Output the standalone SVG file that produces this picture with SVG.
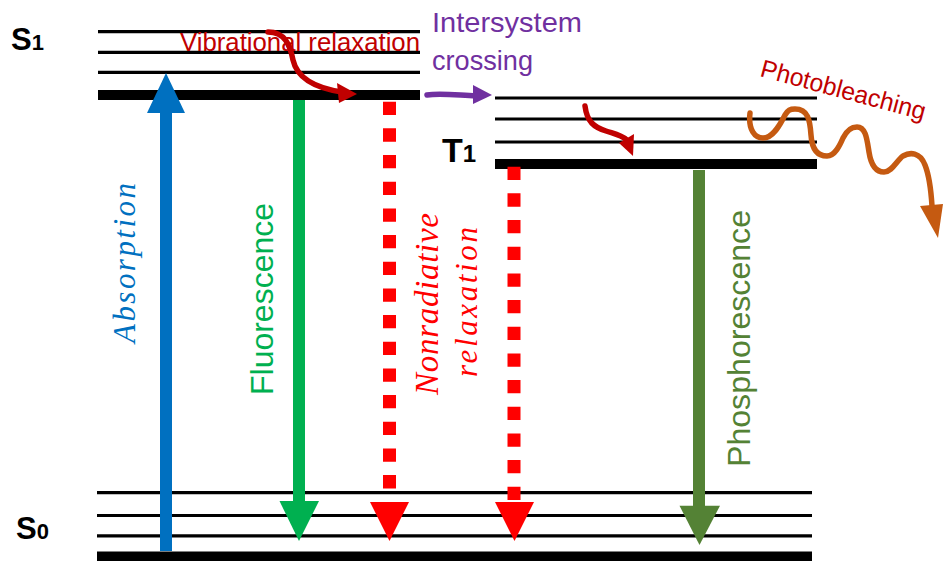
<svg xmlns="http://www.w3.org/2000/svg" width="943" height="561" viewBox="0 0 943 561">
<style>
.thin{stroke:#000;stroke-width:3.2;}
.thick{stroke:#000;stroke-width:10;}
.lvl{font-family:"Liberation Sans",Arial,sans-serif;font-weight:bold;fill:#000;}
.sans{font-family:"Liberation Sans",Arial,sans-serif;}
.ital{font-family:"Liberation Serif","Times New Roman",serif;font-style:italic;}
.wave{fill:none;stroke-width:5.5;stroke-linecap:round;}
</style>
<rect width="943" height="561" fill="#fff"/>

<g id="S1">
  <line class="thin" x1="98" y1="31.7" x2="420" y2="31.7"/>
  <line class="thin" x1="98" y1="52.3" x2="420" y2="52.3"/>
  <line class="thin" x1="98" y1="72.3" x2="420" y2="72.3"/>
  <line class="thick" x1="98" y1="95" x2="420" y2="95"/>
  <text class="lvl" x="11" y="50" font-size="31">S<tspan font-size="22">1</tspan></text>
</g>

<g id="T1">
  <line class="thin" x1="495" y1="98" x2="817" y2="98"/>
  <line class="thin" x1="495" y1="119" x2="817" y2="119"/>
  <line class="thin" x1="495" y1="142" x2="817" y2="142"/>
  <line class="thick" x1="495" y1="164" x2="817" y2="164"/>
  <text class="lvl" x="442" y="162" font-size="34">T<tspan font-size="24">1</tspan></text>
</g>

<g id="S0">
  <line class="thin" x1="97" y1="492.7" x2="812" y2="492.7"/>
  <line class="thin" x1="97" y1="515.5" x2="812" y2="515.5"/>
  <line class="thin" x1="97" y1="535.8" x2="812" y2="535.8"/>
  <line class="thick" x1="97" y1="556.5" x2="812" y2="556.5"/>
  <text class="lvl" x="16" y="539" font-size="31">S<tspan font-size="22">0</tspan></text>
</g>

<g id="connectors">
  <g id="absorption">
    <line x1="166" y1="551" x2="166" y2="110" stroke="#0070C0" stroke-width="12"/>
    <polygon points="147,113 185,113 166,73" fill="#0070C0"/>
    <text class="ital" transform="translate(135,263) rotate(-90)" text-anchor="middle" font-size="31" fill="#0070C0" textLength="160" lengthAdjust="spacing">Absorption</text>
  </g>
  <g id="fluorescence">
    <line x1="299" y1="100" x2="299" y2="503" stroke="#00B050" stroke-width="12"/>
    <polygon points="279.5,501 319,501 299,541" fill="#00B050"/>
    <text class="sans" transform="translate(273,299) rotate(-90)" text-anchor="middle" font-size="32" fill="#00B050" textLength="192" lengthAdjust="spacingAndGlyphs">Fluorescence</text>
  </g>
  <g id="nonrad1">
    <line x1="389.5" y1="101.7" x2="389.5" y2="489" stroke="#FF0000" stroke-width="13" stroke-dasharray="13.3 13.37"/>
    <polygon points="370,502 409,502 389.5,541" fill="#FF0000"/>
    <text class="ital" transform="translate(438,304) rotate(-90)" text-anchor="middle" font-size="33" fill="#FF0000" textLength="182" lengthAdjust="spacing">Nonradiative</text>
    <text class="ital" transform="translate(477,302) rotate(-90)" text-anchor="middle" font-size="31" fill="#FF0000" textLength="150" lengthAdjust="spacing">relaxation</text>
  </g>
  <g id="nonrad2">
    <line x1="514" y1="166.7" x2="514" y2="500" stroke="#FF0000" stroke-width="13" stroke-dasharray="13.3 13.37"/>
    <polygon points="495,502 534,502 514.5,541" fill="#FF0000"/>
  </g>
  <g id="phosphorescence">
    <line x1="699" y1="170" x2="699" y2="507" stroke="#548235" stroke-width="12"/>
    <polygon points="679.5,505.7 720,505.7 699.5,545" fill="#548235"/>
    <text class="sans" transform="translate(750,338.5) rotate(-90)" text-anchor="middle" font-size="32" fill="#548235" textLength="257" lengthAdjust="spacingAndGlyphs">Phosphorescence</text>
  </g>
  <g id="vibrational">
    <text class="sans" x="180" y="51" font-size="26" fill="#C00000" textLength="240" lengthAdjust="spacingAndGlyphs">Vibrational relaxation</text>
    <path class="wave" stroke="#C00000" d="M268,32 C285,32 290,45 293,60 C297,78 315,88 342,92"/>
    <polygon points="337,83 357,94 339,103" fill="#C00000"/>
  </g>
  <g id="vibrational-t1">
    <path class="wave" stroke="#C00000" d="M585,106 C587,122 594,127 606,131 C615,134 621,135 627,140"/>
    <polygon points="619,143 634,134 633,156" fill="#C00000"/>
  </g>
  <g id="isc">
    <text class="sans" x="432" y="32" font-size="28" fill="#7030A0" textLength="150" lengthAdjust="spacingAndGlyphs">Intersystem</text>
    <text class="sans" x="432" y="70" font-size="28" fill="#7030A0" textLength="101" lengthAdjust="spacingAndGlyphs">crossing</text>
    <path class="wave" stroke="#7030A0" d="M427,95 C440,93 455,95 476,96"/>
    <polygon points="473,85 492,95 473,104" fill="#7030A0"/>
  </g>
  <g id="photobleaching">
    <text class="sans" transform="translate(759,76) rotate(15)" font-size="25" fill="#C00000" textLength="170" lengthAdjust="spacingAndGlyphs">Photobleaching</text>
    <path class="wave" stroke="#C55A11" stroke-width="6" d="M750,113 C748,130 755,138 763,138 C773,138 780,125 785,115 C788,110 790,109 795,109 C808,109 810,120 811,135 C812,150 818,156 827,156 C835,156 840,145 843,138 C847,130 852,127 857,127 C866,127 867,140 869,152 C871,165 876,172 884,172 C892,172 897,160 903,156 C910,152 920,152 925,165 C929,175 931,190 932,206"/>
    <polygon points="920,206 943,204 938,238" fill="#C55A11"/>
  </g>
</g>
</svg>
